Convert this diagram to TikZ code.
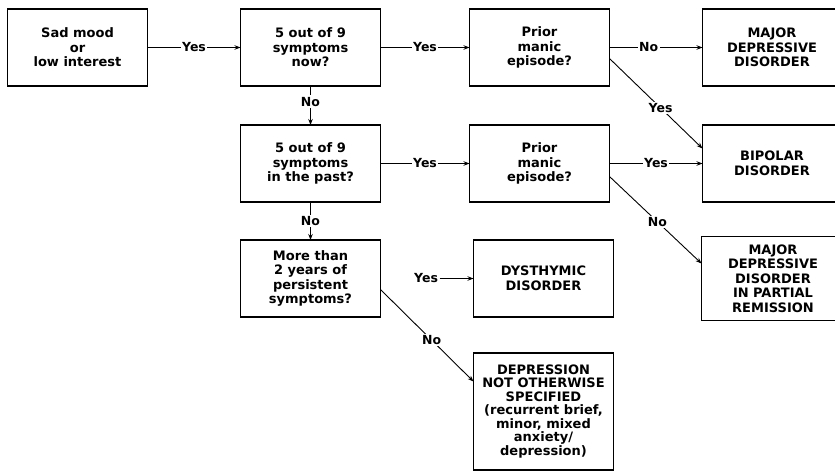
\documentclass[tikz,border=0pt]{standalone}
\usepackage{fontspec}
\setmainfont{DejaVu Sans}
\usepackage{tikz}
\usetikzlibrary{positioning, arrows.meta}

\begin{document}
\begin{tikzpicture}[
        x=1pt, y=-1pt,
        node distance=90pt,
        box/.style={draw, line width=1.8pt, align=center, minimum height=77pt, minimum width=140pt, inner sep=1pt, outer sep=0pt, font=\fontsize{13}{14.5}\selectfont\bfseries},
        result/.style={box, minimum width=139pt},
        answer/.style={fill=white, inner sep=1.5pt, font=\fontsize{12.5}{14}\selectfont\bfseries},
        arrow/.style={-{Stealth[length=6pt, width=4.5pt]}, line width=0.9pt}
    ]
    \useasboundingbox (0,0) rectangle (835,472);

    % Nodes
    \node [box] (mood) at (77.5,47.5) {Sad mood\\or\\low interest};
    \node [box] (now) [right=93pt of mood] {5 out of 9\\symptoms\\now?};
    \node [box] (manic1) [right=89pt of now] {Prior\\manic\\episode?};
    \node [result] (mdd) [right=93pt of manic1] {MAJOR\\DEPRESSIVE\\DISORDER};

    \node [box] (past) [below=39pt of now] {5 out of 9\\symptoms\\in the past?};
    \node [box] (manic2) [right=89pt of past] {Prior\\manic\\episode?};
    \node [result] (bipolar) [right=93pt of manic2] {BIPOLAR\\DISORDER};

    \node [box] (persist) [below=38pt of past] {More than\\2 years of\\persistent\\symptoms?};
    \node [answer] (yes3) [right=32pt of persist] {Yes};
    \node [box] (dysth) [right=93pt of persist] {DYSTHYMIC\\DISORDER};
    \node [result, minimum width=143pt, minimum height=84pt, text width=130pt] (partial) [right=88pt of dysth] {MAJOR\\DEPRESSIVE\\DISORDER\\IN PARTIAL\\REMISSION};
    \node [box, minimum height=117pt, font=\fontsize{13}{13.5}\selectfont\bfseries] (nos) [below=36pt of dysth] {DEPRESSION\\NOT OTHERWISE\\SPECIFIED\\(recurrent brief,\\minor, mixed\\anxiety/\\depression)};

    % Arrows
    \draw[arrow] (mood) -- (now) node[midway, answer] {Yes};
    \draw[arrow] (now) -- (manic1) node[midway, answer] {Yes};
    \draw[arrow] (manic1) -- (mdd) node[pos=0.42, answer] {No};
    \draw[arrow] ([yshift=-11pt]manic1.east) -- ([yshift=15pt]bipolar.west) node[pos=0.55, answer] {Yes};

    \draw[arrow] (now) -- (past) node[pos=0.4, answer] {No};
    \draw[arrow] (past) -- (manic2) node[midway, answer] {Yes};
    \draw[arrow] (manic2) -- (bipolar) node[midway, answer] {Yes};
    \draw[arrow] ([yshift=-13pt]manic2.east) -- ([yshift=15pt]partial.west) node[pos=0.52, answer] {No};

    \draw[arrow] (past) -- (persist) node[midway, answer] {No};
    \draw[arrow] (yes3) -- (dysth);
    \draw[arrow] ([yshift=-11pt]persist.east) -- ([yshift=30pt]nos.west) node[pos=0.55, answer] {No};

\end{tikzpicture}
\end{document}
